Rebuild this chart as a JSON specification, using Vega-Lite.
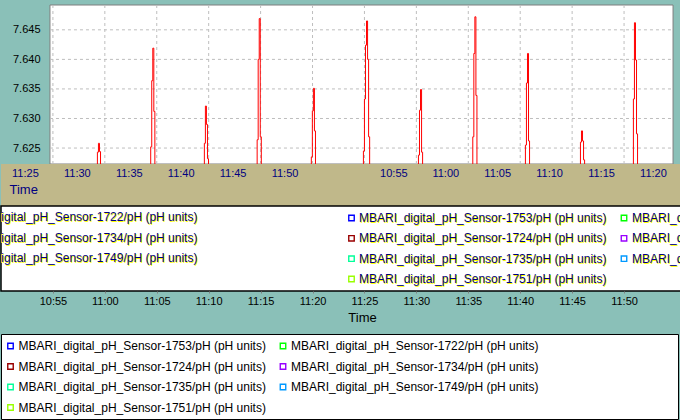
{
  "$schema": "https://vega.github.io/schema/vega-lite/v6.json",
  "background": "#8AC0B8",
  "padding": {"top": 4, "left": 0, "right": 0, "bottom": 2},
  "config": {"view": {"stroke": null}, "font": "Liberation Sans"},
  "datasets": {
    "ph": [
      {"time": "2010-01-01T10:50:00", "sensor": "MBARI_digital_pH_Sensor-1753/pH (pH units)", "ph": 7.61},
      {"time": "2010-01-01T10:59:17", "sensor": "MBARI_digital_pH_Sensor-1753/pH (pH units)", "ph": 7.6243},
      {"time": "2010-01-01T10:59:23", "sensor": "MBARI_digital_pH_Sensor-1753/pH (pH units)", "ph": 7.6258},
      {"time": "2010-01-01T10:59:29", "sensor": "MBARI_digital_pH_Sensor-1753/pH (pH units)", "ph": 7.6244},
      {"time": "2010-01-01T10:59:35", "sensor": "MBARI_digital_pH_Sensor-1753/pH (pH units)", "ph": 7.61},
      {"time": "2010-01-01T11:04:25", "sensor": "MBARI_digital_pH_Sensor-1753/pH (pH units)", "ph": 7.6252},
      {"time": "2010-01-01T11:04:31", "sensor": "MBARI_digital_pH_Sensor-1753/pH (pH units)", "ph": 7.6364},
      {"time": "2010-01-01T11:04:37", "sensor": "MBARI_digital_pH_Sensor-1753/pH (pH units)", "ph": 7.6419},
      {"time": "2010-01-01T11:04:43", "sensor": "MBARI_digital_pH_Sensor-1753/pH (pH units)", "ph": 7.6312},
      {"time": "2010-01-01T11:04:49", "sensor": "MBARI_digital_pH_Sensor-1753/pH (pH units)", "ph": 7.61},
      {"time": "2010-01-01T11:09:35", "sensor": "MBARI_digital_pH_Sensor-1753/pH (pH units)", "ph": 7.6258},
      {"time": "2010-01-01T11:09:41", "sensor": "MBARI_digital_pH_Sensor-1753/pH (pH units)", "ph": 7.6321},
      {"time": "2010-01-01T11:09:47", "sensor": "MBARI_digital_pH_Sensor-1753/pH (pH units)", "ph": 7.629},
      {"time": "2010-01-01T11:09:53", "sensor": "MBARI_digital_pH_Sensor-1753/pH (pH units)", "ph": 7.6232},
      {"time": "2010-01-01T11:09:59", "sensor": "MBARI_digital_pH_Sensor-1753/pH (pH units)", "ph": 7.61},
      {"time": "2010-01-01T11:14:40", "sensor": "MBARI_digital_pH_Sensor-1753/pH (pH units)", "ph": 7.6264},
      {"time": "2010-01-01T11:14:46", "sensor": "MBARI_digital_pH_Sensor-1753/pH (pH units)", "ph": 7.64},
      {"time": "2010-01-01T11:14:52", "sensor": "MBARI_digital_pH_Sensor-1753/pH (pH units)", "ph": 7.6469},
      {"time": "2010-01-01T11:14:58", "sensor": "MBARI_digital_pH_Sensor-1753/pH (pH units)", "ph": 7.6269},
      {"time": "2010-01-01T11:15:04", "sensor": "MBARI_digital_pH_Sensor-1753/pH (pH units)", "ph": 7.61},
      {"time": "2010-01-01T11:19:53", "sensor": "MBARI_digital_pH_Sensor-1753/pH (pH units)", "ph": 7.6235},
      {"time": "2010-01-01T11:19:59", "sensor": "MBARI_digital_pH_Sensor-1753/pH (pH units)", "ph": 7.6313},
      {"time": "2010-01-01T11:20:05", "sensor": "MBARI_digital_pH_Sensor-1753/pH (pH units)", "ph": 7.6351},
      {"time": "2010-01-01T11:20:11", "sensor": "MBARI_digital_pH_Sensor-1753/pH (pH units)", "ph": 7.6279},
      {"time": "2010-01-01T11:20:17", "sensor": "MBARI_digital_pH_Sensor-1753/pH (pH units)", "ph": 7.61},
      {"time": "2010-01-01T11:24:54", "sensor": "MBARI_digital_pH_Sensor-1753/pH (pH units)", "ph": 7.6245},
      {"time": "2010-01-01T11:25:00", "sensor": "MBARI_digital_pH_Sensor-1753/pH (pH units)", "ph": 7.6333},
      {"time": "2010-01-01T11:25:06", "sensor": "MBARI_digital_pH_Sensor-1753/pH (pH units)", "ph": 7.6424},
      {"time": "2010-01-01T11:25:12", "sensor": "MBARI_digital_pH_Sensor-1753/pH (pH units)", "ph": 7.6465},
      {"time": "2010-01-01T11:25:18", "sensor": "MBARI_digital_pH_Sensor-1753/pH (pH units)", "ph": 7.64},
      {"time": "2010-01-01T11:25:24", "sensor": "MBARI_digital_pH_Sensor-1753/pH (pH units)", "ph": 7.6269},
      {"time": "2010-01-01T11:25:30", "sensor": "MBARI_digital_pH_Sensor-1753/pH (pH units)", "ph": 7.61},
      {"time": "2010-01-01T11:30:12", "sensor": "MBARI_digital_pH_Sensor-1753/pH (pH units)", "ph": 7.6238},
      {"time": "2010-01-01T11:30:18", "sensor": "MBARI_digital_pH_Sensor-1753/pH (pH units)", "ph": 7.6314},
      {"time": "2010-01-01T11:30:24", "sensor": "MBARI_digital_pH_Sensor-1753/pH (pH units)", "ph": 7.6349},
      {"time": "2010-01-01T11:30:30", "sensor": "MBARI_digital_pH_Sensor-1753/pH (pH units)", "ph": 7.6243},
      {"time": "2010-01-01T11:30:36", "sensor": "MBARI_digital_pH_Sensor-1753/pH (pH units)", "ph": 7.61},
      {"time": "2010-01-01T11:35:26", "sensor": "MBARI_digital_pH_Sensor-1753/pH (pH units)", "ph": 7.6269},
      {"time": "2010-01-01T11:35:32", "sensor": "MBARI_digital_pH_Sensor-1753/pH (pH units)", "ph": 7.641},
      {"time": "2010-01-01T11:35:38", "sensor": "MBARI_digital_pH_Sensor-1753/pH (pH units)", "ph": 7.6472},
      {"time": "2010-01-01T11:35:44", "sensor": "MBARI_digital_pH_Sensor-1753/pH (pH units)", "ph": 7.6339},
      {"time": "2010-01-01T11:35:50", "sensor": "MBARI_digital_pH_Sensor-1753/pH (pH units)", "ph": 7.61},
      {"time": "2010-01-01T11:40:30", "sensor": "MBARI_digital_pH_Sensor-1753/pH (pH units)", "ph": 7.6255},
      {"time": "2010-01-01T11:40:36", "sensor": "MBARI_digital_pH_Sensor-1753/pH (pH units)", "ph": 7.636},
      {"time": "2010-01-01T11:40:42", "sensor": "MBARI_digital_pH_Sensor-1753/pH (pH units)", "ph": 7.641},
      {"time": "2010-01-01T11:40:48", "sensor": "MBARI_digital_pH_Sensor-1753/pH (pH units)", "ph": 7.6262},
      {"time": "2010-01-01T11:40:54", "sensor": "MBARI_digital_pH_Sensor-1753/pH (pH units)", "ph": 7.61},
      {"time": "2010-01-01T11:45:48", "sensor": "MBARI_digital_pH_Sensor-1753/pH (pH units)", "ph": 7.626},
      {"time": "2010-01-01T11:45:54", "sensor": "MBARI_digital_pH_Sensor-1753/pH (pH units)", "ph": 7.6279},
      {"time": "2010-01-01T11:46:00", "sensor": "MBARI_digital_pH_Sensor-1753/pH (pH units)", "ph": 7.6262},
      {"time": "2010-01-01T11:46:06", "sensor": "MBARI_digital_pH_Sensor-1753/pH (pH units)", "ph": 7.623},
      {"time": "2010-01-01T11:46:12", "sensor": "MBARI_digital_pH_Sensor-1753/pH (pH units)", "ph": 7.61},
      {"time": "2010-01-01T11:50:54", "sensor": "MBARI_digital_pH_Sensor-1753/pH (pH units)", "ph": 7.6333},
      {"time": "2010-01-01T11:51:00", "sensor": "MBARI_digital_pH_Sensor-1753/pH (pH units)", "ph": 7.6462},
      {"time": "2010-01-01T11:51:06", "sensor": "MBARI_digital_pH_Sensor-1753/pH (pH units)", "ph": 7.6399},
      {"time": "2010-01-01T11:51:12", "sensor": "MBARI_digital_pH_Sensor-1753/pH (pH units)", "ph": 7.6274},
      {"time": "2010-01-01T11:51:18", "sensor": "MBARI_digital_pH_Sensor-1753/pH (pH units)", "ph": 7.61},
      {"time": "2010-01-01T11:55:00", "sensor": "MBARI_digital_pH_Sensor-1753/pH (pH units)", "ph": 7.61}
    ],
    "sensors": [
      {"order": 1, "sensor": "MBARI_digital_pH_Sensor-1753/pH (pH units)"},
      {"order": 2, "sensor": "MBARI_digital_pH_Sensor-1722/pH (pH units)"},
      {"order": 3, "sensor": "MBARI_digital_pH_Sensor-1724/pH (pH units)"},
      {"order": 4, "sensor": "MBARI_digital_pH_Sensor-1734/pH (pH units)"},
      {"order": 5, "sensor": "MBARI_digital_pH_Sensor-1735/pH (pH units)"},
      {"order": 6, "sensor": "MBARI_digital_pH_Sensor-1749/pH (pH units)"},
      {"order": 7, "sensor": "MBARI_digital_pH_Sensor-1751/pH (pH units)"}
    ],
    "ph_ticks": [
      {"tick": 7.625}, {"tick": 7.63}, {"tick": 7.635}, {"tick": 7.64}, {"tick": 7.645}
    ],
    "time_ticks": [
      {"t": "2010-01-01T10:55:00"}, {"t": "2010-01-01T11:00:00"}, {"t": "2010-01-01T11:05:00"},
      {"t": "2010-01-01T11:10:00"}, {"t": "2010-01-01T11:15:00"}, {"t": "2010-01-01T11:20:00"},
      {"t": "2010-01-01T11:25:00"}, {"t": "2010-01-01T11:30:00"}, {"t": "2010-01-01T11:35:00"},
      {"t": "2010-01-01T11:40:00"}, {"t": "2010-01-01T11:45:00"}, {"t": "2010-01-01T11:50:00"}
    ]
  },
  "spacing": 0,
  "bounds": "flush",
  "vconcat": [
    {
      "width": 680,
      "height": 159,
      "layer": [
        {
          "data": {"name": "ph"},
          "transform": [{"aggregate": [{"op": "count", "as": "n"}]}],
          "mark": {"type": "rect", "fill": "white", "stroke": "#7F7F7F", "strokeWidth": 1},
          "encoding": {
            "x": {"datum": {"year": 2010, "month": 1, "date": 1, "hours": 10, "minutes": 54, "seconds": 43}, "type": "temporal", "axis": null},
            "x2": {"datum": {"year": 2010, "month": 1, "date": 1, "hours": 11, "minutes": 54, "seconds": 43}}
          }
        },
        {
          "data": {"name": "ph_ticks"},
          "mark": {"type": "rule", "color": "#BEBEBE", "strokeDash": [3, 3], "strokeWidth": 1},
          "encoding": {
            "y": {
              "field": "tick", "type": "quantitative",
              "axis": {
                "orient": "left", "offset": -49,
                "values": [7.625, 7.63, 7.635, 7.64, 7.645], "format": ".3f",
                "grid": false, "ticks": false, "tickSize": 0, "domain": false, "title": null,
                "labelFontSize": 11, "labelColor": "black", "labelPadding": 10,
                "labelOverlap": false, "labelBound": false, "labelFlush": false
              }
            },
            "x": {"datum": {"year": 2010, "month": 1, "date": 1, "hours": 10, "minutes": 54, "seconds": 43}, "type": "temporal", "axis": null},
            "x2": {"datum": {"year": 2010, "month": 1, "date": 1, "hours": 11, "minutes": 54, "seconds": 43}}
          }
        },
        {
          "data": {"name": "time_ticks"},
          "mark": {"type": "rule", "color": "#BEBEBE", "strokeDash": [3, 3], "strokeWidth": 1},
          "encoding": {
            "x": {"field": "t", "type": "temporal", "axis": null}
          }
        },
        {
          "data": {"name": "ph"},
          "mark": {"type": "line", "interpolate": "step-after", "clip": true, "color": "#FF0000", "strokeWidth": 1},
          "encoding": {
            "x": {
              "field": "time", "type": "temporal",
              "scale": {"domain": [{"year": 2010, "month": 1, "date": 1, "hours": 10, "minutes": 50, "seconds": 0}, {"year": 2010, "month": 1, "date": 1, "hours": 11, "minutes": 55, "seconds": 29}], "nice": false},
              "axis": null
            },
            "y": {
              "field": "ph", "type": "quantitative",
              "scale": {"domain": [7.6223, 7.6492], "zero": false, "nice": false},
              "axis": {
                "orient": "left", "offset": -49,
                "values": [7.625, 7.63, 7.635, 7.64, 7.645], "format": ".3f",
                "grid": false, "ticks": false, "tickSize": 0, "domain": false, "title": null,
                "labelFontSize": 11, "labelColor": "black", "labelPadding": 10,
                "labelOverlap": false, "labelBound": false, "labelFlush": false
              }
            }
          }
        }
      ]
    },
    {
      "width": 680,
      "height": 42,
      "view": {"fill": "#C0B88A", "stroke": null},
      "data": {"name": "ph"},
      "mark": {"type": "point", "opacity": 0, "size": 1},
      "encoding": {
        "x": {
          "field": "time", "type": "temporal",
          "scale": {"domain": [{"year": 2010, "month": 1, "date": 1, "hours": 10, "minutes": 50, "seconds": 0}, {"year": 2010, "month": 1, "date": 1, "hours": 11, "minutes": 55, "seconds": 29}], "nice": false},
          "axis": {
            "orient": "bottom", "offset": -42,
            "values": [
              {"year": 2010, "month": 1, "date": 1, "hours": 10, "minutes": 55},
              {"year": 2010, "month": 1, "date": 1, "hours": 11, "minutes": 0},
              {"year": 2010, "month": 1, "date": 1, "hours": 11, "minutes": 5},
              {"year": 2010, "month": 1, "date": 1, "hours": 11, "minutes": 10},
              {"year": 2010, "month": 1, "date": 1, "hours": 11, "minutes": 15},
              {"year": 2010, "month": 1, "date": 1, "hours": 11, "minutes": 20},
              {"year": 2010, "month": 1, "date": 1, "hours": 11, "minutes": 30},
              {"year": 2010, "month": 1, "date": 1, "hours": 11, "minutes": 35},
              {"year": 2010, "month": 1, "date": 1, "hours": 11, "minutes": 40},
              {"year": 2010, "month": 1, "date": 1, "hours": 11, "minutes": 45},
              {"year": 2010, "month": 1, "date": 1, "hours": 11, "minutes": 50},
              {"year": 2010, "month": 1, "date": 1, "hours": 11, "minutes": 55}
            ],
            "labelExpr": "hours(datum.value) * 60 + minutes(datum.value) < 682 ? timeFormat(time(datum.value) + 1800000, '%H:%M') : timeFormat(time(datum.value) - 2100000, '%H:%M')",
            "labelOffset": {"condition": {"test": "hours(datum.value) * 60 + minutes(datum.value) < 682", "value": -28}, "value": -23},
            "labelFontSize": 11, "labelColor": "#000080", "labelPadding": 3,
            "labelFlush": false, "labelOverlap": false, "labelBound": false,
            "ticks": false, "tickSize": 0, "domain": false, "grid": false,
            "title": "Time", "titleX": 8, "titleY": 25, "titleAlign": "left", "titleBaseline": "middle",
            "titleAnchor": "start", "titleFontSize": 13, "titleFontWeight": "normal", "titleColor": "#000080"
          }
        }
      }
    },
    {
      "width": 680,
      "height": 85,
      "view": {"fill": "white", "stroke": "#000000", "strokeWidth": 1.5},
      "data": {"name": "sensors"},
      "transform": [
        {"calculate": "(datum.order - 1) % 2", "as": "col"},
        {"calculate": "floor((datum.order - 1) / 2)", "as": "row"}
      ],
      "layer": [
        {
          "mark": {"type": "text", "align": "left", "baseline": "middle", "fontSize": 12, "color": "#FFFF00", "dx": 1, "dy": 1, "clip": true},
          "transform": [{"filter": "datum.col == 1"}],
          "encoding": {
            "x": {"field": "col", "type": "quantitative", "scale": {"domain": [0, 1], "range": [-323, -51], "zero": false, "nice": false}, "axis": null},
            "y": {"field": "row", "type": "quantitative", "scale": {"domain": [0, 3], "range": [11, 73], "zero": false, "nice": false}, "axis": null},
            "text": {"field": "sensor"}
          }
        },
        {
          "mark": {"type": "text", "align": "left", "baseline": "middle", "fontSize": 12, "color": "#000080", "clip": true},
          "transform": [{"filter": "datum.col == 1"}],
          "encoding": {
            "x": {"field": "col", "type": "quantitative", "scale": {"domain": [0, 1], "range": [-323, -51], "zero": false, "nice": false}, "axis": null},
            "y": {"field": "row", "type": "quantitative", "scale": {"domain": [0, 3], "range": [11, 73], "zero": false, "nice": false}, "axis": null},
            "text": {"field": "sensor"}
          }
        },
        {
          "mark": {"type": "point", "shape": "square", "filled": false, "size": 30, "strokeWidth": 1.4, "opacity": 1, "clip": true},
          "encoding": {
            "x": {"field": "col", "type": "quantitative", "scale": {"domain": [0, 1], "range": [350.5, 623], "zero": false, "nice": false}, "axis": null},
            "y": {"field": "row", "type": "quantitative", "scale": {"domain": [0, 3], "range": [12, 73], "zero": false, "nice": false}, "axis": null},
            "color": {
              "field": "sensor", "type": "nominal", "legend": null,
              "scale": {
                "domain": ["MBARI_digital_pH_Sensor-1753/pH (pH units)", "MBARI_digital_pH_Sensor-1722/pH (pH units)", "MBARI_digital_pH_Sensor-1724/pH (pH units)", "MBARI_digital_pH_Sensor-1734/pH (pH units)", "MBARI_digital_pH_Sensor-1735/pH (pH units)", "MBARI_digital_pH_Sensor-1749/pH (pH units)", "MBARI_digital_pH_Sensor-1751/pH (pH units)"],
                "range": ["#0000FF", "#00FF00", "#990000", "#9900FF", "#00FF99", "#0099FF", "#99FF00"]
              }
            }
          }
        },
        {
          "mark": {"type": "text", "align": "left", "baseline": "middle", "fontSize": 12, "color": "#FFFF00", "dx": 1, "dy": 1, "clip": true},
          "encoding": {
            "x": {"field": "col", "type": "quantitative", "scale": {"domain": [0, 1], "range": [358, 631], "zero": false, "nice": false}, "axis": null},
            "y": {"field": "row", "type": "quantitative", "scale": {"domain": [0, 3], "range": [12, 73], "zero": false, "nice": false}, "axis": null},
            "text": {"field": "sensor"}
          }
        },
        {
          "mark": {"type": "text", "align": "left", "baseline": "middle", "fontSize": 12, "color": "#000080", "clip": true},
          "encoding": {
            "x": {"field": "col", "type": "quantitative", "scale": {"domain": [0, 1], "range": [358, 631], "zero": false, "nice": false}, "axis": null},
            "y": {"field": "row", "type": "quantitative", "scale": {"domain": [0, 3], "range": [12, 73], "zero": false, "nice": false}, "axis": null},
            "text": {"field": "sensor"}
          }
        }
      ],
      "resolve": {"scale": {"x": "independent", "y": "independent"}}
    },
    {
      "width": 680,
      "height": 43,
      "data": {"name": "ph"},
      "mark": {"type": "point", "opacity": 0, "size": 1},
      "encoding": {
        "x": {
          "field": "time", "type": "temporal",
          "scale": {"domain": [{"year": 2010, "month": 1, "date": 1, "hours": 10, "minutes": 50, "seconds": 0}, {"year": 2010, "month": 1, "date": 1, "hours": 11, "minutes": 55, "seconds": 29}], "nice": false},
          "axis": {
            "orient": "bottom", "offset": -43,
            "values": [
              {"year": 2010, "month": 1, "date": 1, "hours": 10, "minutes": 55},
              {"year": 2010, "month": 1, "date": 1, "hours": 11, "minutes": 0},
              {"year": 2010, "month": 1, "date": 1, "hours": 11, "minutes": 5},
              {"year": 2010, "month": 1, "date": 1, "hours": 11, "minutes": 10},
              {"year": 2010, "month": 1, "date": 1, "hours": 11, "minutes": 15},
              {"year": 2010, "month": 1, "date": 1, "hours": 11, "minutes": 20},
              {"year": 2010, "month": 1, "date": 1, "hours": 11, "minutes": 25},
              {"year": 2010, "month": 1, "date": 1, "hours": 11, "minutes": 30},
              {"year": 2010, "month": 1, "date": 1, "hours": 11, "minutes": 35},
              {"year": 2010, "month": 1, "date": 1, "hours": 11, "minutes": 40},
              {"year": 2010, "month": 1, "date": 1, "hours": 11, "minutes": 45},
              {"year": 2010, "month": 1, "date": 1, "hours": 11, "minutes": 50}
            ],
            "format": "%H:%M",
            "labelFontSize": 11, "labelColor": "#000000", "labelPadding": 2,
            "labelFlush": false, "labelOverlap": false, "labelBound": false,
            "ticks": true, "tickSize": 2, "tickColor": "#808080", "domain": false, "grid": false,
            "title": "Time", "titleX": 361, "titleY": 26, "titleAlign": "center", "titleBaseline": "middle",
            "titleFontSize": 13, "titleFontWeight": "normal", "titleColor": "#000000"
          }
        }
      }
    },
    {
      "width": 677,
      "height": 85,
      "view": {"fill": "white", "stroke": "#000000", "strokeWidth": 1},
      "data": {"name": "sensors"},
      "transform": [
        {"calculate": "(datum.order - 1) % 2", "as": "col"},
        {"calculate": "floor((datum.order - 1) / 2)", "as": "row"}
      ],
      "layer": [
        {
          "mark": {"type": "point", "shape": "square", "filled": false, "size": 30, "strokeWidth": 1.4, "opacity": 1},
          "encoding": {
            "x": {"field": "col", "type": "quantitative", "scale": {"domain": [0, 1], "range": [9.5, 282], "zero": false, "nice": false}, "axis": null},
            "y": {"field": "row", "type": "quantitative", "scale": {"domain": [0, 3], "range": [12, 73.5], "zero": false, "nice": false}, "axis": null},
            "color": {
              "field": "sensor", "type": "nominal", "legend": null,
              "scale": {
                "domain": ["MBARI_digital_pH_Sensor-1753/pH (pH units)", "MBARI_digital_pH_Sensor-1722/pH (pH units)", "MBARI_digital_pH_Sensor-1724/pH (pH units)", "MBARI_digital_pH_Sensor-1734/pH (pH units)", "MBARI_digital_pH_Sensor-1735/pH (pH units)", "MBARI_digital_pH_Sensor-1749/pH (pH units)", "MBARI_digital_pH_Sensor-1751/pH (pH units)"],
                "range": ["#FF0000", "#0000FF", "#009900", "#FF9900", "#9900FF", "#FF0099", "#0099FF"]
              }
            }
          }
        },
        {
          "mark": {"type": "text", "align": "left", "baseline": "middle", "fontSize": 12, "color": "#000000"},
          "encoding": {
            "x": {"field": "col", "type": "quantitative", "scale": {"domain": [0, 1], "range": [17.5, 290], "zero": false, "nice": false}, "axis": null},
            "y": {"field": "row", "type": "quantitative", "scale": {"domain": [0, 3], "range": [12, 73.5], "zero": false, "nice": false}, "axis": null},
            "text": {"field": "sensor"}
          }
        }
      ],
      "resolve": {"scale": {"x": "independent"}}
    }
  ]
}
